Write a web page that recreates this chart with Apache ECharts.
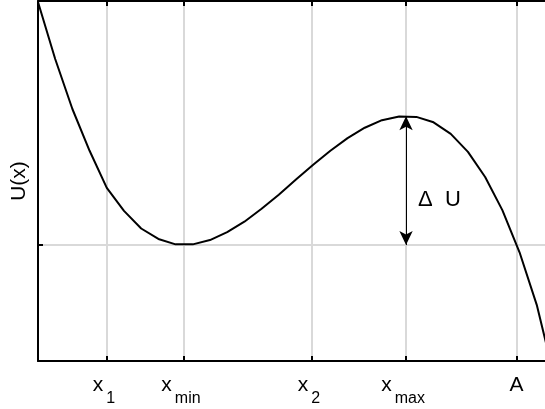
<!DOCTYPE html>
<html>
<head>
<meta charset="utf-8">
<script src="https://cdn.jsdelivr.net/npm/echarts@6/dist/echarts.min.js"></script>
<style>
  html, body { margin: 0; padding: 0; background: #fff; }
  #chart { width: 545px; height: 409px; }
</style>
</head>
<body>
<div id="chart"></div>
<script>
// Potential energy curve U(x), sampled at equally spaced positions
const xs = [0, 1, 2, 3, 4, 5, 6, 7, 8, 9, 10, 11, 12, 13, 14, 15,
            16, 17, 18, 19, 20, 21, 22, 23, 24, 25, 26, 27, 28, 29, 30];
const uValues = [9.97, 8.39, 7.00, 5.84, 4.81, 4.17, 3.68, 3.39, 3.24, 3.24,
                 3.36, 3.58, 3.87, 4.23, 4.62, 5.04, 5.45, 5.84, 6.19, 6.48,
                 6.69, 6.79, 6.78, 6.63, 6.31, 5.81, 5.11, 4.19, 3.02, 1.56, -0.40];

// Marked positions on the x axis and their names (main letter, subscript)
const tickValues = [4.01, 8.49, 15.93, 21.40, 27.82];
const tickMain = ['x', 'x', 'x', 'x', 'A'];
const tickSub = ['1', 'min', '2', 'max', ''];

// Visible x range (the curve continues past the right edge)
const xRange = [0, 29.48];

// Energy levels at the minimum and at the maximum
const uMin = 3.22;
const uMax = 6.80;
const xMaxPos = tickValues[3];

const yName = 'U(x)';
const deltaLabel = 'Δ  U';

const FONT = 'Liberation Sans, Arial, Helvetica, sans-serif';
const GRID_COLOR = '#d9d9d9';

function tickIndex(v) {
  let best = 0;
  for (let i = 1; i < tickValues.length; i++) {
    if (Math.abs(tickValues[i] - v) < Math.abs(tickValues[best] - v)) best = i;
  }
  return best;
}

const chart = echarts.init(document.getElementById('chart'), null, { renderer: 'canvas' });
chart.setOption({
  animation: false,
  backgroundColor: '#fff',
  grid: { left: 38, right: 0, top: 1, bottom: 48, containLabel: false, outerBoundsMode: 'none' },
  xAxis: [{
    type: 'value', min: xRange[0], max: xRange[1], position: 'bottom',
    axisLine: { show: true, onZero: false, lineStyle: { color: '#000', width: 2 } },
    axisTick: { show: true, inside: true, length: 5, customValues: tickValues,
                lineStyle: { color: '#000', width: 2 } },
    axisLabel: {
      show: true, margin: 14, customValues: tickValues,
      formatter: function (v) {
        const i = tickIndex(v);
        return tickSub[i] ? '{m|' + tickMain[i] + '}{s|' + tickSub[i] + '}' : '{m|' + tickMain[i] + '}';
      },
      rich: {
        m: { fontSize: 21, fontFamily: FONT, color: '#000', lineHeight: 22, verticalAlign: 'top' },
        s: { fontSize: 16, fontFamily: FONT, color: '#000', lineHeight: 32, verticalAlign: 'bottom',
             padding: [0, 6, 0, 3] }
      }
    },
    splitLine: { show: true, lineStyle: { color: GRID_COLOR, width: 2 } }
  }, {
    // top edge of the frame, with inward ticks
    type: 'value', min: xRange[0], max: xRange[1], position: 'top', gridIndex: 0,
    axisLine: { show: true, onZero: false, lineStyle: { color: '#000', width: 2 } },
    axisTick: { show: true, inside: true, length: 5, customValues: tickValues,
                lineStyle: { color: '#000', width: 2 } },
    axisLabel: { show: false },
    splitLine: { show: false }
  }],
  yAxis: {
    type: 'value', min: 0, max: 10,
    name: yName, nameLocation: 'middle', nameGap: 8,
    nameTextStyle: { fontSize: 21, fontFamily: FONT, color: '#000' },
    axisLine: { show: true, onZero: false, lineStyle: { color: '#000', width: 2 } },
    axisTick: { show: true, inside: true, length: 5, customValues: [uMin],
                lineStyle: { color: '#000', width: 2 } },
    axisLabel: { show: false },
    splitLine: { show: true, lineStyle: { color: GRID_COLOR, width: 2 } }
  },
  series: [{
    type: 'line',
    xAxisIndex: 0,
    data: xs.map((x, i) => [x, uValues[i]]),
    showSymbol: false,
    symbol: 'none',
    clip: true,
    lineStyle: { color: '#000', width: 2 },
    markLine: {
      silent: true,
      symbol: ['arrow', 'arrow'],
      symbolSize: [10, 14],
      lineStyle: { color: '#000', width: 1, type: 'solid' },
      label: { show: false },
      data: [[{ coord: [xMaxPos, uMin] }, { coord: [xMaxPos, uMax] }]]
    },
    markPoint: {
      silent: true,
      symbol: 'circle',
      symbolSize: 0,
      label: {
        show: true, position: 'right', distance: 12, offset: [0, 19],
        formatter: deltaLabel, fontSize: 22, fontFamily: FONT, color: '#000'
      },
      data: [{ coord: [xMaxPos, (uMin + uMax) / 2] }]
    }
  }, {
    // empty companion series so the top frame axis is laid out in the grid
    type: 'line',
    xAxisIndex: 1,
    data: [[0, 0]],
    showSymbol: false,
    lineStyle: { width: 0 },
    silent: true
  }]
});
</script>
</body>
</html>
